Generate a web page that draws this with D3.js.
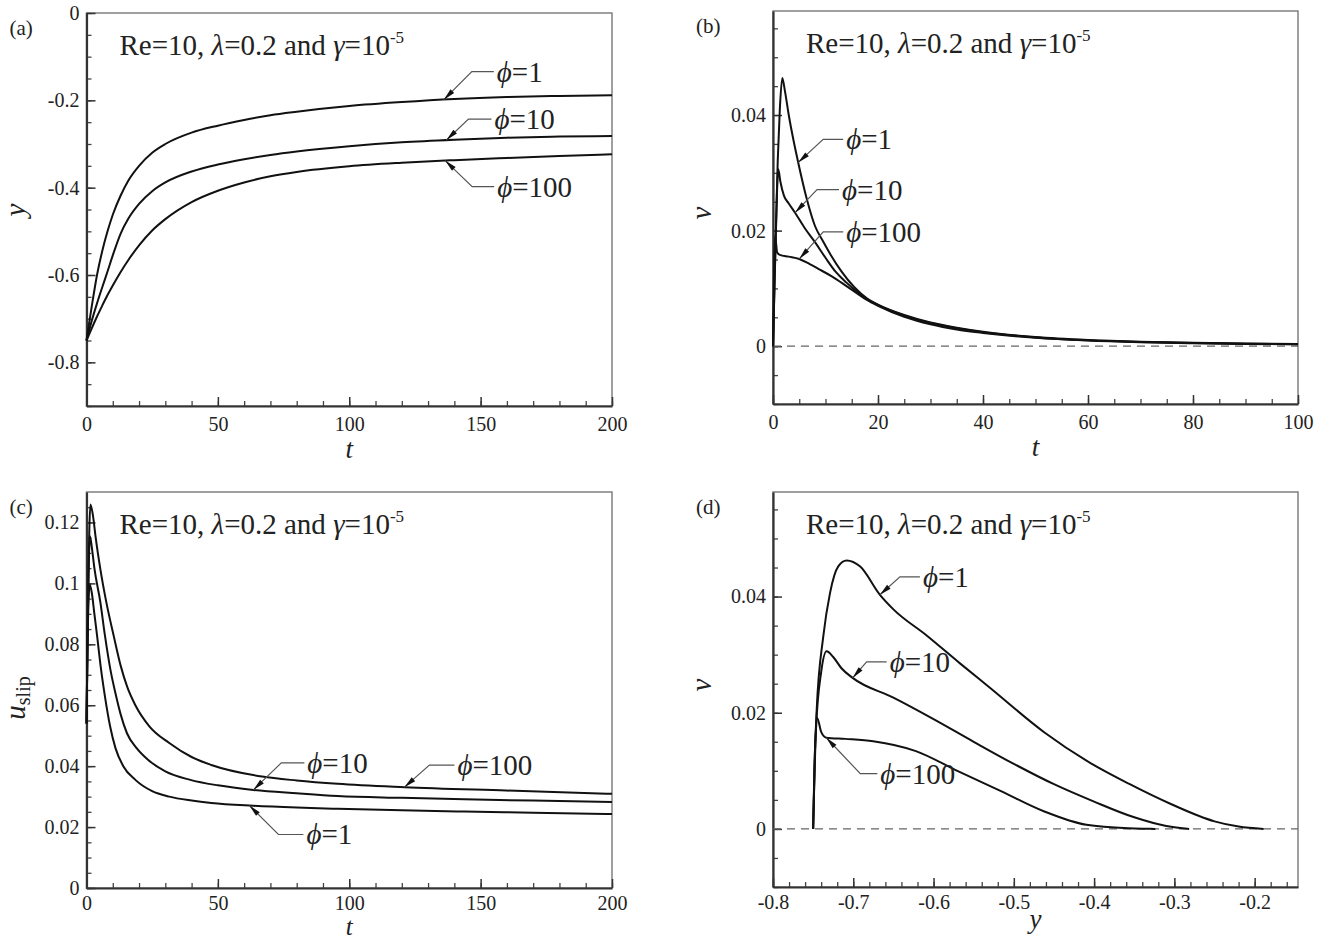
<!DOCTYPE html>
<html>
<head>
<meta charset="utf-8">
<script src="https://cdn.jsdelivr.net/npm/d3@7"></script>
<style>
  body { margin: 0; background: #fff; }
  svg { display: block; }
  text { font-family: "Liberation Serif", "Times New Roman", serif; fill: #222; }
</style>
</head>
<body>
<svg id="fig" width="1330" height="941" font-family="Liberation Serif, Times New Roman, serif"></svg>
<script>
// ---------- (a) particle position y versus time t ----------
const tA = [0, 1, 2, 4, 6, 8, 10, 13, 16, 20, 25, 30, 40, 50, 60, 70, 80, 100, 120, 140, 160, 180, 200];
const yA_phi1   = [-0.75, -0.71, -0.672, -0.600, -0.545, -0.500, -0.462, -0.418, -0.383, -0.350, -0.320, -0.300, -0.274, -0.258, -0.245, -0.234, -0.226, -0.213, -0.204, -0.197, -0.1925, -0.190, -0.1886];
const yA_phi10  = [-0.75, -0.727, -0.705, -0.665, -0.628, -0.592, -0.555, -0.505, -0.470, -0.437, -0.408, -0.388, -0.363, -0.347, -0.335, -0.325, -0.317, -0.305, -0.296, -0.290, -0.2855, -0.283, -0.2816];
const yA_phi100 = [-0.75, -0.736, -0.722, -0.695, -0.670, -0.646, -0.624, -0.593, -0.565, -0.532, -0.498, -0.472, -0.433, -0.407, -0.388, -0.374, -0.364, -0.351, -0.343, -0.337, -0.332, -0.3275, -0.3237];

// ---------- (b) particle velocity v versus time t ----------
const tB_phi1 = [0, 0.4, 0.9, 1.3, 1.77, 2.3, 3, 4, 4.8, 6.4, 8, 9.5, 11, 13, 15.5, 18, 20, 25, 30, 35, 40, 50, 60, 70, 80, 90, 100];
const vB_phi1 = [0, 0.015, 0.032, 0.041, 0.0464, 0.0440, 0.0400, 0.0352, 0.0318, 0.0256, 0.0208, 0.0182, 0.0158, 0.0130, 0.0102, 0.0082, 0.0072, 0.0054, 0.0041, 0.0032, 0.0025, 0.00158, 0.00107, 0.00077, 0.00059, 0.00047, 0.00039];
const tB_phi10 = [0, 0.5, 1.0, 1.4, 2.1, 3, 4.2, 6, 8, 10, 12, 14, 16, 18, 20, 25, 30, 35, 40, 50, 60, 70, 80, 90, 100];
const vB_phi10 = [0, 0.018, 0.0306, 0.0285, 0.0260, 0.0247, 0.0231, 0.0205, 0.0180, 0.0153, 0.0128, 0.0110, 0.0094, 0.0081, 0.0071, 0.0053, 0.0040, 0.0031, 0.0024, 0.00152, 0.00102, 0.00073, 0.00055, 0.00043, 0.00035];
const tB_phi100 = [0, 0.4, 0.8, 1.3, 3, 5, 7, 9, 11.2, 14, 17.7, 20, 25, 30, 35, 40, 50, 60, 70, 80, 90, 100];
const vB_phi100 = [0, 0.0191, 0.0162, 0.0158, 0.0155, 0.0151, 0.0142, 0.0132, 0.0121, 0.0104, 0.0081, 0.0070, 0.0051, 0.0038, 0.0029, 0.0023, 0.00145, 0.00097, 0.00069, 0.00052, 0.00040, 0.00032];

// ---------- (c) slip velocity versus time t ----------
const tC_phi1 = [0, 0.4, 1.2, 2, 3, 4, 5.5, 7, 9, 11, 14, 18.6, 25, 31.5, 40, 47.5, 63.5, 80, 95.6, 120, 143.8, 170, 200];
const uC_phi1 = [0.054, 0.080, 0.0996, 0.097, 0.090, 0.083, 0.072, 0.063, 0.053, 0.046, 0.040, 0.0355, 0.0318, 0.0300, 0.0287, 0.0279, 0.0270, 0.0264, 0.0260, 0.0255, 0.0251, 0.0247, 0.0243];
const tC_phi10 = [0, 0.5, 1.3, 2, 3, 5.3, 7, 9.1, 11, 13, 15.4, 19, 23.4, 30, 39.5, 50, 63.5, 80, 95.6, 120, 143.8, 170, 200];
const uC_phi10 = [0.054, 0.088, 0.1155, 0.112, 0.105, 0.0937, 0.083, 0.0717, 0.064, 0.057, 0.0508, 0.046, 0.0421, 0.0383, 0.0355, 0.0337, 0.0322, 0.0311, 0.0302, 0.0296, 0.0291, 0.0287, 0.0282];
const tC_phi100 = [0, 0.6, 1.5, 2.5, 3.5, 5.3, 7.5, 10.4, 13, 15.5, 18.6, 24, 31.5, 40, 47.5, 66.8, 80, 95.6, 121, 159.7, 200];
const uC_phi100 = [0.054, 0.095, 0.1259, 0.122, 0.115, 0.1045, 0.094, 0.0826, 0.073, 0.066, 0.0600, 0.0530, 0.0476, 0.0430, 0.0404, 0.0366, 0.0353, 0.0342, 0.0331, 0.0320, 0.0309];

// ---------- (d) phase plot: velocity v versus position y ----------
const yD_phi1 = [-0.75, -0.7485, -0.7456, -0.7374, -0.729, -0.7187, -0.7082, -0.6917, -0.6668, -0.650, -0.6086, -0.5671, -0.5298, -0.4618, -0.409, -0.3556, -0.303, -0.250, -0.220, -0.189];
const vD_phi1 = [0, 0.010, 0.0204, 0.0331, 0.0406, 0.0452, 0.0462, 0.0452, 0.0403, 0.0378, 0.0333, 0.0285, 0.0243, 0.0166, 0.0117, 0.0077, 0.0042, 0.0013, 0.0004, 0];
const yD_phi10 = [-0.75, -0.7465, -0.740, -0.7332, -0.725, -0.715, -0.7008, -0.65, -0.60, -0.55, -0.50, -0.45, -0.40, -0.35, -0.31, -0.29, -0.2816];
const vD_phi10 = [0, 0.017, 0.027, 0.0306, 0.0296, 0.0277, 0.0260, 0.0226, 0.0189, 0.0150, 0.0112, 0.0077, 0.0047, 0.0020, 0.0005, 0.0001, 0];
const yD_phi100 = [-0.75, -0.7478, -0.745, -0.740, -0.7336, -0.71, -0.6752, -0.622, -0.569, -0.516, -0.462, -0.4096, -0.3567, -0.33, -0.3237];
const vD_phi100 = [0, 0.013, 0.0191, 0.0167, 0.0157, 0.0155, 0.0151, 0.0134, 0.0099, 0.0065, 0.003, 0.0007, 0.0001, 0.00002, 0];

// ---------- tick values ----------
const ticksT200 = [0, 50, 100, 150, 200];
const ticksT100 = [0, 20, 40, 60, 80, 100];
const ticksYpos = [-0.8, -0.6, -0.4, -0.2, 0];
const ticksV = [0, 0.02, 0.04];
const ticksU = [0, 0.02, 0.04, 0.06, 0.08, 0.1, 0.12];
const ticksYphase = [-0.8, -0.7, -0.6, -0.5, -0.4, -0.3, -0.2];

const svg = d3.select("#fig");
const FONT = "Liberation Serif, Times New Roman, serif";

const fmt = d => d === 0 ? "0" : String(+d.toFixed(3));
const steps = (a, b, s) => d3.range(Math.round((b - a) / s) + 1).map(i => +(a + i * s).toFixed(6));

function interp(xs, ys, xv) {
  for (let i = 1; i < xs.length; i++) {
    if (xv <= xs[i]) {
      const f = (xv - xs[i - 1]) / (xs[i] - xs[i - 1]);
      return ys[i - 1] + f * (ys[i] - ys[i - 1]);
    }
  }
  return ys[ys.length - 1];
}

function drawPanel(o) {
  const x = d3.scaleLinear().domain(o.xDomain).range([o.box.l, o.box.r]);
  const y = d3.scaleLinear().domain(o.yDomain).range([o.box.b, o.box.t]);
  const g = svg.append("g").attr("font-family", FONT);

  // light frame on top / right
  g.append("rect")
    .attr("x", o.box.l).attr("y", o.box.t)
    .attr("width", o.box.r - o.box.l).attr("height", o.box.b - o.box.t)
    .attr("fill", "none").attr("stroke", "#777").attr("stroke-width", 1.4);

  // minor ticks
  g.append("g").attr("transform", `translate(0,${o.box.b})`)
    .call(d3.axisBottom(x).tickValues(o.xMinor).tickSize(-5).tickFormat(""))
    .call(s => s.select(".domain").remove())
    .call(s => s.selectAll("line").attr("stroke", "#444").attr("stroke-width", 1.3));
  g.append("g").attr("transform", `translate(${o.box.l},0)`)
    .call(d3.axisLeft(y).tickValues(o.yMinor).tickSize(-5).tickFormat(""))
    .call(s => s.select(".domain").remove())
    .call(s => s.selectAll("line").attr("stroke", "#444").attr("stroke-width", 1.3));

  // major ticks with labels
  const styleAxis = s => {
    s.attr("font-family", FONT).attr("font-size", 20);
    s.select(".domain").attr("stroke", "#333").attr("stroke-width", 2.2);
    s.selectAll(".tick line").attr("stroke", "#333").attr("stroke-width", 1.5);
    s.selectAll(".tick text").attr("fill", "#222");
  };
  g.append("g").attr("transform", `translate(0,${o.box.b})`)
    .call(d3.axisBottom(x).tickValues(o.xMajor).tickSize(-9).tickSizeOuter(0).tickPadding(o.xPad).tickFormat(fmt))
    .call(styleAxis);
  g.append("g").attr("transform", `translate(${o.box.l},0)`)
    .call(d3.axisLeft(y).tickValues(o.yMajor).tickSize(-9).tickSizeOuter(0).tickPadding(7).tickFormat(fmt))
    .call(styleAxis);

  // zero reference line
  if (o.zeroLine) {
    g.append("line")
      .attr("x1", o.box.l).attr("x2", o.box.r)
      .attr("y1", y(0)).attr("y2", y(0))
      .attr("stroke", "#666").attr("stroke-width", 1.3).attr("stroke-dasharray", "8,6");
  }

  // curves
  const line = d3.line().x(d => x(d[0])).y(d => y(d[1])).curve(d3.curveMonotoneX);
  o.series.forEach(s => {
    g.append("path")
      .datum(d3.zip(s.xs, s.ys))
      .attr("d", line)
      .attr("fill", "none").attr("stroke", "#111").attr("stroke-width", 2)
      .attr("stroke-linejoin", "round");
  });

  // callout labels with leader arrows
  o.labels.forEach(lb => {
    const s = o.series[lb.series];
    const px = x(lb.at), py = y(interp(s.xs, s.ys, lb.at));
    const ex = px + lb.dx, ey = py + lb.dy;
    const hx = ex + lb.len;
    g.append("polyline")
      .attr("points", `${px},${py} ${ex},${ey} ${hx},${ey}`)
      .attr("fill", "none").attr("stroke", "#555").attr("stroke-width", 1.2);
    const ang = Math.atan2(py - ey, px - ex);
    const L = 12, W = 2.6;
    const bx = px - L * Math.cos(ang), by = py - L * Math.sin(ang);
    const nx = -Math.sin(ang) * W, ny = Math.cos(ang) * W;
    g.append("path")
      .attr("d", `M${px},${py}L${bx + nx},${by + ny}L${bx - nx},${by - ny}Z`)
      .attr("fill", "#111");
    const t = g.append("text").attr("x", hx + 3).attr("y", ey + 10).attr("font-size", 29);
    t.append("tspan").attr("font-style", "italic").text("\u03D5");
    t.append("tspan").text("=" + lb.value);
  });

  // header annotation
  const h = g.append("text").attr("x", o.box.l + 33).attr("y", o.box.t + 42).attr("font-size", 29);
  h.append("tspan").text("Re=10, ");
  h.append("tspan").attr("font-style", "italic").text("\u03BB");
  h.append("tspan").text("=0.2 and ");
  h.append("tspan").attr("font-style", "italic").text("\u03B3");
  h.append("tspan").text("=10");
  h.append("tspan").attr("font-size", 17).attr("dy", -12).text("-5");

  // panel letter
  g.append("text").attr("x", o.box.l - 77).attr("y", o.box.t + 22).attr("font-size", 21).text(o.letter);

  // axis titles
  g.append("text").attr("x", (o.box.l + o.box.r) / 2).attr("y", o.box.b + o.xTitleDy)
    .attr("text-anchor", "middle").attr("font-size", o.xTitleSize).attr("font-style", "italic").text(o.xTitle);
  const yt = g.append("text")
    .attr("transform", `translate(${o.box.l - 62},${o.yTitlePos}) rotate(-90)`)
    .attr("text-anchor", "middle").attr("font-size", 29);
  yt.append("tspan").attr("font-style", "italic").text(o.yTitle);
  if (o.yTitleSub) yt.append("tspan").attr("font-size", 20).attr("dy", 5).text(o.yTitleSub);
}

drawPanel({
  letter: "(a)", box: { l: 86.5, r: 612, t: 13, b: 406 },
  xDomain: [0, 200], yDomain: [-0.9, 0],
  xMajor: ticksT200, xMinor: steps(0, 200, 10), xPad: 11,
  yMajor: ticksYpos, yMinor: steps(-0.9, 0, 0.05),
  xTitle: "t", xTitleDy: 52, xTitleSize: 27, yTitle: "y", yTitlePos: 210,
  series: [{ xs: tA, ys: yA_phi1 }, { xs: tA, ys: yA_phi10 }, { xs: tA, ys: yA_phi100 }],
  labels: [
    { series: 0, value: "1",   at: 136, dx: 28, dy: -28, len: 22 },
    { series: 1, value: "10",  at: 137, dx: 22, dy: -21, len: 23 },
    { series: 2, value: "100", at: 136.5, dx: 27, dy: 26, len: 22 }
  ]
});

drawPanel({
  letter: "(b)", box: { l: 773, r: 1298, t: 11, b: 404 },
  xDomain: [0, 100], yDomain: [-0.01, 0.058], zeroLine: true,
  xMajor: ticksT100, xMinor: steps(0, 100, 5), xPad: 11,
  yMajor: ticksV, yMinor: steps(-0.01, 0.055, 0.005),
  xTitle: "t", xTitleDy: 52, xTitleSize: 27, yTitle: "v", yTitlePos: 213,
  series: [{ xs: tB_phi1, ys: vB_phi1 }, { xs: tB_phi10, ys: vB_phi10 }, { xs: tB_phi100, ys: vB_phi100 }],
  labels: [
    { series: 0, value: "1",   at: 4.8, dx: 25, dy: -23, len: 20 },
    { series: 1, value: "10",  at: 4.2, dx: 22, dy: -23, len: 22 },
    { series: 2, value: "100", at: 5,   dx: 24, dy: -27, len: 20 }
  ]
});

drawPanel({
  letter: "(c)", box: { l: 86.5, r: 612, t: 492, b: 888 },
  xDomain: [0, 200], yDomain: [0, 0.13],
  xMajor: ticksT200, xMinor: steps(0, 200, 10), xPad: 8,
  yMajor: ticksU, yMinor: steps(0, 0.125, 0.005),
  xTitle: "t", xTitleDy: 47, xTitleSize: 25, yTitle: "u", yTitleSub: "slip", yTitlePos: 698,
  series: [{ xs: tC_phi1, ys: uC_phi1 }, { xs: tC_phi10, ys: uC_phi10 }, { xs: tC_phi100, ys: uC_phi100 }],
  labels: [
    { series: 1, value: "10",  at: 63.5, dx: 28, dy: -27, len: 23 },
    { series: 2, value: "100", at: 121,  dx: 25, dy: -22, len: 25 },
    { series: 0, value: "1",   at: 62,   dx: 29, dy: 29,  len: 25 }
  ]
});

drawPanel({
  letter: "(d)", box: { l: 773, r: 1298, t: 492, b: 887 },
  xDomain: [-0.8, -0.146], yDomain: [-0.01, 0.058], zeroLine: true,
  xMajor: ticksYphase, xMinor: steps(-0.8, -0.16, 0.02), xPad: 8,
  yMajor: ticksV, yMinor: steps(-0.01, 0.055, 0.005),
  xTitle: "y", xTitleDy: 41, xTitleSize: 27, yTitle: "v", yTitlePos: 685,
  series: [{ xs: yD_phi1, ys: vD_phi1 }, { xs: yD_phi10, ys: vD_phi10 }, { xs: yD_phi100, ys: vD_phi100 }],
  labels: [
    { series: 0, value: "1",   at: -0.6668, dx: 20, dy: -18, len: 20 },
    { series: 1, value: "10",  at: -0.7008, dx: 14, dy: -16, len: 20 },
    { series: 2, value: "100", at: -0.7336, dx: 34, dy: 36,  len: 17 }
  ]
});
</script>
</body>
</html>
